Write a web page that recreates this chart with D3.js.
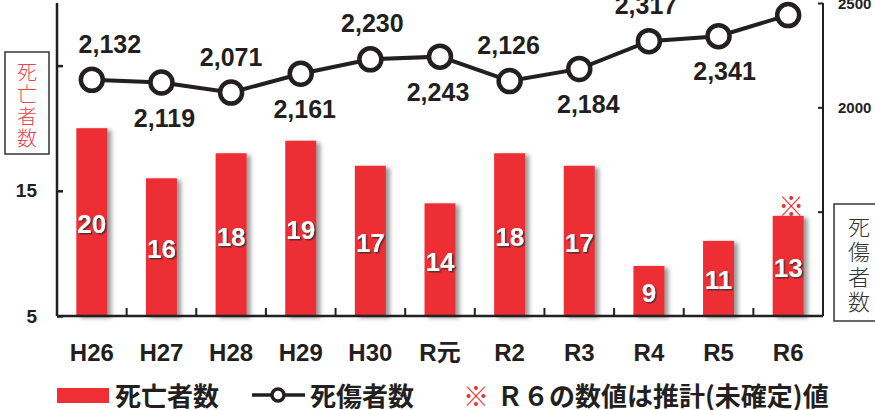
<!DOCTYPE html>
<html lang="ja">
	<head>
		<meta charset="utf-8">
		<title>死亡者数と死傷者数</title>
        <script type="text/javascript" src="https://cdn.jsdelivr.net/npm/d3@7/dist/d3.min.js"></script>
        <style>
            body { margin: 0; background: #fff; }
            svg { display: block; }
        </style>
	</head>
	<body>
		<script type="text/javascript">

            // data
            var years = ["H26", "H27", "H28", "H29", "H30", "R元", "R2", "R3", "R4", "R5", "R6"]
            var deaths = [20, 16, 18, 19, 17, 14, 18, 17, 9, 11, 13]
            var casualties = [2132, 2119, 2071, 2161, 2230, 2243, 2126, 2184, 2317, 2341, 2442]
            var leftTicks = [5, 15, 25]
            var leftTickLabels = ["5", "15", ""]
            var rightTicks = [1500, 2000, 2500]
            var rightTickLabels = ["", "2000", "2500"]

            var w = 875
            var h = 410
            var red = "#ee2f35"
            var ink = "#231f20"
            var font = "'Liberation Sans', Arial, sans-serif"
            var jfont = "'Noto Sans CJK JP', sans-serif"

            var svg = d3.select("body").append("svg").attr("width", w).attr("height", h)

            // shadow filters for the bars and the numbers on them
            var defs = svg.append("defs")
            defs.append("filter").attr("id", "barShadow")
                .attr("x", "-20%").attr("y", "-10%").attr("width", "160%").attr("height", "120%")
                .append("feDropShadow")
                .attr("dx", 4).attr("dy", 2).attr("stdDeviation", 2.2)
                .attr("flood-color", "#555").attr("flood-opacity", 0.6)
            defs.append("filter").attr("id", "textShadow")
                .append("feDropShadow")
                .attr("dx", 1.5).attr("dy", 1.5).attr("stdDeviation", 0.7)
                .attr("flood-color", "#333").attr("flood-opacity", 0.8)

            // plot edges (don't call it "top", that one belongs to window)
            var plotL = 57, plotR = 823, plotT = 3, plotB = 316
            var xScale = d3.scaleBand()
                .domain(years)
                .range([plotL, plotR])
                .paddingInner(0.555)
                .paddingOuter(0.2775)
            var cx = function(d) { return xScale(d) + xScale.bandwidth() / 2 }

            var yLeft = d3.scaleLinear().domain([5, 30]).range([plotB, plotT])
            var yRight = d3.scaleLinear().domain([1000, 2500]).range([plotB, plotT])

            // bars
            svg.append("g")
                .selectAll("rect")
                .data(deaths)
                .enter()
                .append("rect")
                .attr("x", function(d, i) { return xScale(years[i]) })
                .attr("y", function(d) { return yLeft(d) })
                .attr("width", xScale.bandwidth())
                .attr("height", function(d) { return plotB - yLeft(d) })
                .attr("fill", red)
                .attr("filter", "url(#barShadow)")

            // numbers inside the bars
            svg.append("g")
                .selectAll("text")
                .data(deaths)
                .enter()
                .append("text")
                .attr("x", function(d, i) { return cx(years[i]) })
                .attr("y", function(d) { return (yLeft(d) + plotB) / 2 + 2 })
                .attr("text-anchor", "middle")
                .attr("dominant-baseline", "central")
                .attr("font-family", font)
                .attr("font-weight", "bold")
                .attr("font-size", 26)
                .attr("fill", "#fff")
                .attr("filter", "url(#textShadow)")
                .text(function(d) { return d })

            // ※ over the R6 bar (estimate)
            svg.append("text")
                .attr("x", cx("R6") + 3)
                .attr("y", yLeft(deaths[10]) - 11)
                .attr("text-anchor", "middle")
                .attr("dominant-baseline", "central")
                .attr("font-family", jfont)
                .attr("font-weight", "bold")
                .attr("font-size", 26)
                .attr("fill", red)
                .text("※")

            // left axis
            var leftAxis = d3.axisRight(yLeft)
                .tickValues(leftTicks)
                .tickSize(6)
                .tickFormat(function(d, i) { return "" })
            var gl = svg.append("g").attr("transform", "translate(" + plotL + ",0)").call(leftAxis)
            gl.select(".domain").attr("d", "M0," + plotT + "V" + plotB)
            gl.selectAll("path, line").attr("stroke", ink).attr("stroke-width", 2.5)

            svg.append("g")
                .selectAll("text")
                .data(leftTicks)
                .enter()
                .append("text")
                .attr("x", 37)
                .attr("y", function(d) { return yLeft(d) })
                .attr("text-anchor", "end")
                .attr("dominant-baseline", "central")
                .attr("font-family", font)
                .attr("font-weight", "bold")
                .attr("font-size", 19)
                .attr("fill", ink)
                .text(function(d, i) { return leftTickLabels[i] })

            // right axis
            var rightAxis = d3.axisLeft(yRight)
                .tickValues(rightTicks)
                .tickSize(5)
                .tickFormat(function() { return "" })
            var gr = svg.append("g").attr("transform", "translate(" + plotR + ",0)").call(rightAxis)
            gr.select(".domain").attr("d", "M0," + plotT + "V" + plotB)
            gr.selectAll("path, line").attr("stroke", ink).attr("stroke-width", 2)

            svg.append("g")
                .selectAll("text")
                .data(rightTicks)
                .enter()
                .append("text")
                .attr("x", 838)
                .attr("y", function(d) { return yRight(d) })
                .attr("dominant-baseline", "central")
                .attr("font-family", font)
                .attr("font-weight", "bold")
                .attr("font-size", 15)
                .attr("fill", ink)
                .text(function(d, i) { return rightTickLabels[i] })

            // bottom axis with small ticks between the years
            svg.append("line")
                .attr("x1", plotL).attr("x2", plotR)
                .attr("y1", plotB).attr("y2", plotB)
                .attr("stroke", ink).attr("stroke-width", 2.5)
            var gap = xScale.step() * xScale.paddingInner() / 2
            svg.append("g")
                .selectAll("line")
                .data(years.slice(1))
                .enter()
                .append("line")
                .attr("x1", function(d) { return xScale(d) - gap })
                .attr("x2", function(d) { return xScale(d) - gap })
                .attr("y1", plotB).attr("y2", plotB - 8)
                .attr("stroke", ink).attr("stroke-width", 2)

            svg.append("g")
                .selectAll("text")
                .data(years)
                .enter()
                .append("text")
                .attr("x", function(d) { return cx(d) })
                .attr("y", 361)
                .attr("text-anchor", "middle")
                .attr("font-family", font + ", " + jfont)
                .attr("font-weight", "bold")
                .attr("font-size", 24)
                .attr("fill", ink)
                .text(function(d) { return d })

            // casualties line
            var line = d3.line()
                .x(function(d, i) { return cx(years[i]) })
                .y(function(d) { return yRight(d) })
            svg.append("path")
                .datum(casualties)
                .attr("d", line)
                .attr("fill", "none")
                .attr("stroke", ink)
                .attr("stroke-width", 4)
            svg.append("g")
                .selectAll("circle")
                .data(casualties)
                .enter()
                .append("circle")
                .attr("cx", function(d, i) { return cx(years[i]) })
                .attr("cy", function(d) { return yRight(d) })
                .attr("r", 11)
                .attr("fill", "#fff")
                .attr("stroke", ink)
                .attr("stroke-width", 4.5)

            // labels alternate above / below the points, R6 label is cut off in the original so skip it
            var labelShift = [18, 3, 0, 4, 2, -2, -1, 9, -3, 6]
            svg.append("g")
                .selectAll("text")
                .data(casualties.slice(0, 10))
                .enter()
                .append("text")
                .attr("x", function(d, i) { return cx(years[i]) + labelShift[i] })
                .attr("y", function(d, i) { return i % 2 == 0 ? yRight(d) - 27 : yRight(d) + 44 })
                .attr("text-anchor", "middle")
                .attr("font-family", font)
                .attr("font-weight", "bold")
                .attr("font-size", 25)
                .attr("fill", ink)
                .text(function(d) { return d3.format(",")(d) })

            // axis title boxes
            svg.append("rect")
                .attr("x", 5).attr("y", 52).attr("width", 44).attr("height", 102)
                .attr("fill", "#fff").attr("stroke", "#333").attr("stroke-width", 1.5)
            svg.append("g")
                .selectAll("text")
                .data("死亡者数".split(""))
                .enter()
                .append("text")
                .attr("x", 27)
                .attr("y", function(d, i) { return 71 + i * 22 })
                .attr("text-anchor", "middle")
                .attr("dominant-baseline", "central")
                .attr("font-family", jfont)
                .attr("font-weight", 300)
                .attr("font-size", 20)
                .attr("fill", "#e8454c")
                .text(function(d) { return d })

            svg.append("rect")
                .attr("x", 834).attr("y", 204).attr("width", 50).attr("height", 117)
                .attr("fill", "#fff").attr("stroke", "#333").attr("stroke-width", 1.5)
            svg.append("g")
                .selectAll("text")
                .data("死傷者数".split(""))
                .enter()
                .append("text")
                .attr("x", 859)
                .attr("y", function(d, i) { return 225 + i * 25 })
                .attr("text-anchor", "middle")
                .attr("dominant-baseline", "central")
                .attr("font-family", jfont)
                .attr("font-weight", 300)
                .attr("font-size", 22)
                .attr("fill", "#333")
                .text(function(d) { return d })

            // legend
            var lg = svg.append("g")
            lg.append("rect").attr("x", 57).attr("y", 388).attr("width", 52).attr("height", 15).attr("fill", red)
            lg.append("text").attr("x", 115).attr("y", 394).text("死亡者数")
            lg.append("line").attr("x1", 252).attr("x2", 305).attr("y1", 395).attr("y2", 395)
                .attr("stroke", ink).attr("stroke-width", 3.5)
            lg.append("circle").attr("cx", 278).attr("cy", 395).attr("r", 6)
                .attr("fill", "#fff").attr("stroke", ink).attr("stroke-width", 3.5)
            lg.append("text").attr("x", 310).attr("y", 394).text("死傷者数")
            lg.append("text").attr("x", 463).attr("y", 394).attr("fill", red).text("※")
            lg.append("text").attr("x", 497).attr("y", 394).text("Ｒ６の数値は推計(未確定)値")
            lg.selectAll("text")
                .attr("dominant-baseline", "central")
                .attr("font-family", jfont)
                .attr("font-weight", 600)
                .attr("font-size", 26)
                .attr("fill", function() { return d3.select(this).attr("fill") || ink })

		</script>
	</body>
</html>
